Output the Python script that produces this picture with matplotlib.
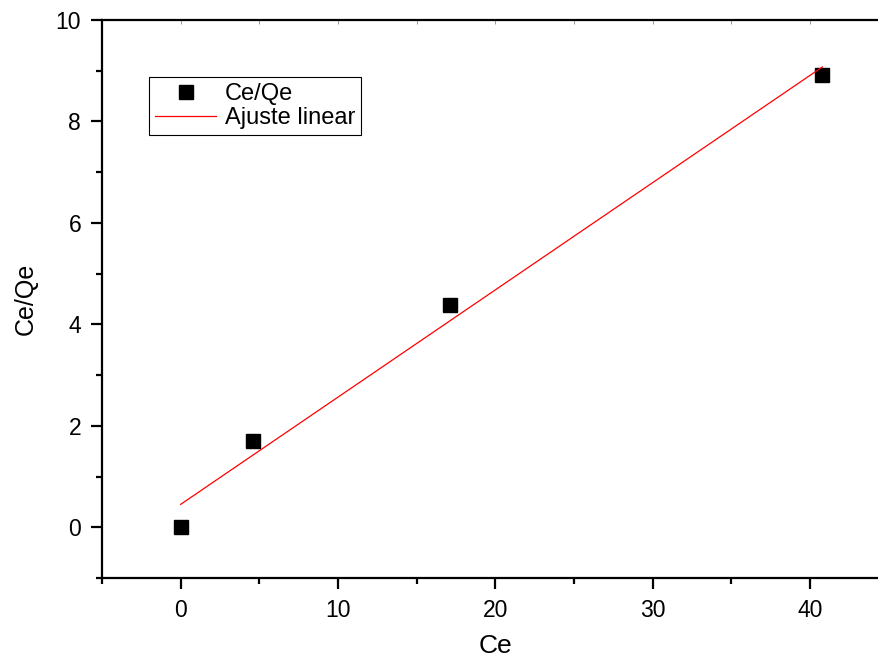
import numpy as np
import matplotlib.pyplot as plt
from matplotlib.ticker import MultipleLocator

plt.rcParams['font.family'] = ['Liberation Sans', 'DejaVu Sans']

# isotherm data
ce = [0.0, 4.58, 17.1, 40.8]
ce_qe = [0.01, 1.71, 4.38, 8.91]

# least squares fit of Ce/Qe against Ce
slope, intercept = np.polyfit(ce, ce_qe, 1)
xfit = np.array([min(ce), max(ce)])
yfit = slope * xfit + intercept

fig = plt.figure(figsize=(8.79, 6.59), dpi=100)
ax = fig.add_axes([0.116, 0.1229, 0.8948, 0.8468])

ax.plot(ce, ce_qe, 's', color='black', ms=9.5, label='Ce/Qe')
ax.plot(xfit, yfit, '-', color='red', lw=0.9, label='Ajuste linear')

ax.set_xlim(-5, 45)
ax.set_ylim(-1, 10)
ax.xaxis.set_major_locator(MultipleLocator(10))
ax.xaxis.set_minor_locator(MultipleLocator(5))
ax.yaxis.set_major_locator(MultipleLocator(2))
ax.yaxis.set_minor_locator(MultipleLocator(1))

for s in ax.spines.values():
    s.set_linewidth(1.6)
ax.tick_params(which='major', direction='out', length=8, width=1.6, labelsize=16.5, pad=7)
ax.tick_params(which='minor', direction='out', length=4, width=1.6)

# thin inward ticks along the top edge
secx = ax.secondary_xaxis('top')
secx.xaxis.set_major_locator(MultipleLocator(5))
secx.tick_params(direction='in', length=3, width=0.6, colors='#888888', labeltop=False)
secx.spines['top'].set_visible(False)

ax.set_xlabel('Ce', fontsize=19, labelpad=9)
ax.set_ylabel('Ce/Qe', fontsize=18, labelpad=13)

leg = ax.legend(loc='upper left', bbox_to_anchor=(0.06, 0.898), fontsize=17,
                frameon=True, fancybox=False, edgecolor='black', framealpha=1,
                borderpad=0.25, labelspacing=0.1, handlelength=2.6, handletextpad=0.35,
                borderaxespad=0)
leg.get_frame().set_linewidth(0.8)

fig.savefig('out.png', dpi=100)
